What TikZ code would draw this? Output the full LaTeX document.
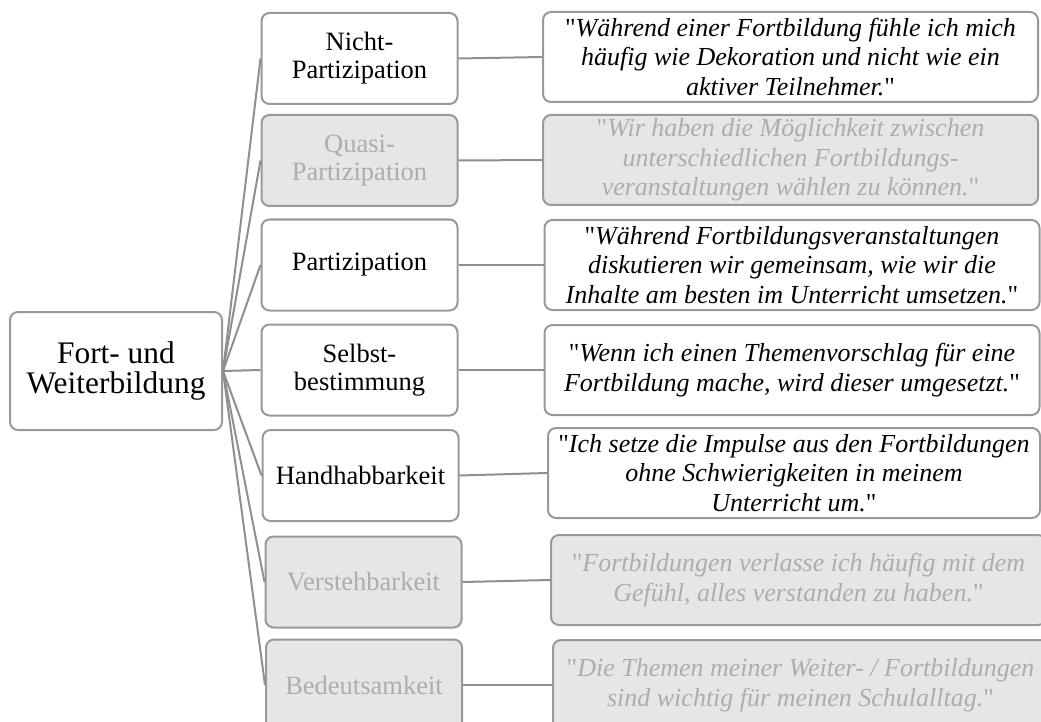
\documentclass[tikz,border=0pt]{standalone}
\usepackage{fontspec}
\setmainfont{Liberation Serif}
% same face without TeX input mapping, so " stays a straight quote
\newfontfamily\plainquote{Liberation Serif}[Ligatures=TeXOff]
\definecolor{boxline}{HTML}{999999}
\definecolor{wire}{HTML}{8F8F8F}
\definecolor{dimfill}{HTML}{E6E6E6}
\definecolor{dimtext}{HTML}{ADADAD}
\newcommand{\qm}{{\plainquote\upshape "}}
\tikzset{
  card/.style={draw=boxline, line width=2pt, rounded corners=8pt, fill=white,
    inner sep=0pt, align=center, font=\fontsize{26.5}{28}\selectfont},
  rootcard/.style={card, minimum width=212pt, minimum height=118pt,
    font=\fontsize{31.4}{30.5}\selectfont},
  midcard/.style={card, minimum width=196pt, minimum height=91pt},
  quotecard/.style={card, minimum width=495pt, minimum height=90pt,
    font=\fontsize{26}{29.5}\selectfont\itshape},
  dim/.style={fill=dimfill, text=dimtext},
  wireline/.style={draw=wire, line width=2pt}
}
\begin{document}
\begin{tikzpicture}[x=1pt, y=-1pt]
\useasboundingbox (0,0) rectangle (1041,722);
\clip (0,0) rectangle (1041,722);

% root
\node[rootcard] (root) at (116,371) {Fort- und\\Weiterbildung};

% categories
\node[midcard] (c1) at (359.5,58.5) {Nicht-\\Partizipation};
\node[midcard, dim] (c2) at (359.5,160.5) {Quasi-\\Partizipation};
\node[midcard] (c3) at (359.5,265) {Partizipation};
\node[midcard] (c4) at (359.5,370) {Selbst-\\bestimmung};
\node[midcard] (c5) at (360.5,475.5) {Handhabbarkeit};
\node[midcard, dim] (c6) at (363.5,582) {Verstehbarkeit};
\node[midcard, dim] (c7) at (364,685) {Bedeutsamkeit};

% example statements
\node[quotecard] (q1) at (790.5,57) {\qm Während einer Fortbildung fühle ich mich\\häufig wie Dekoration und nicht wie ein\\aktiver Teilnehmer.\qm};
\node[quotecard, dim] (q2) at (790.5,160) {\qm Wir haben die Möglichkeit zwischen\\unterschiedlichen Fortbildungs-\\veranstaltungen wählen zu können.\qm};
\node[quotecard] (q3) at (792,265) {\qm Während Fortbildungsveranstaltungen\\diskutieren wir gemeinsam, wie wir die\\Inhalte am besten im Unterricht umsetzen.\qm};
\node[quotecard] (q4) at (792,370) {\qm Wenn ich einen Themenvorschlag für eine\\Fortbildung mache, wird dieser umgesetzt.\qm};
\node[quotecard, minimum width=492pt] (q5) at (794,473) {\qm Ich setze die Impulse aus den Fortbildungen\\ohne Schwierigkeiten in meinem\\Unterricht um.\qm};
\node[quotecard, dim] (q6) at (798.5,580) {\qm Fortbildungen verlasse ich häufig mit dem\\Gefühl, alles verstanden zu haben.\qm};
\node[quotecard, dim] (q7) at (800.5,685) {\qm Die Themen meiner Weiter- / Fortbildungen\\sind wichtig für meinen Schulalltag.\qm};

% connectors
\foreach \i in {1,...,7} {
  \draw[wireline] (root.east) -- (c\i.west);
  \draw[wireline] (c\i.east) -- (q\i.west);
}
\end{tikzpicture}
\end{document}
